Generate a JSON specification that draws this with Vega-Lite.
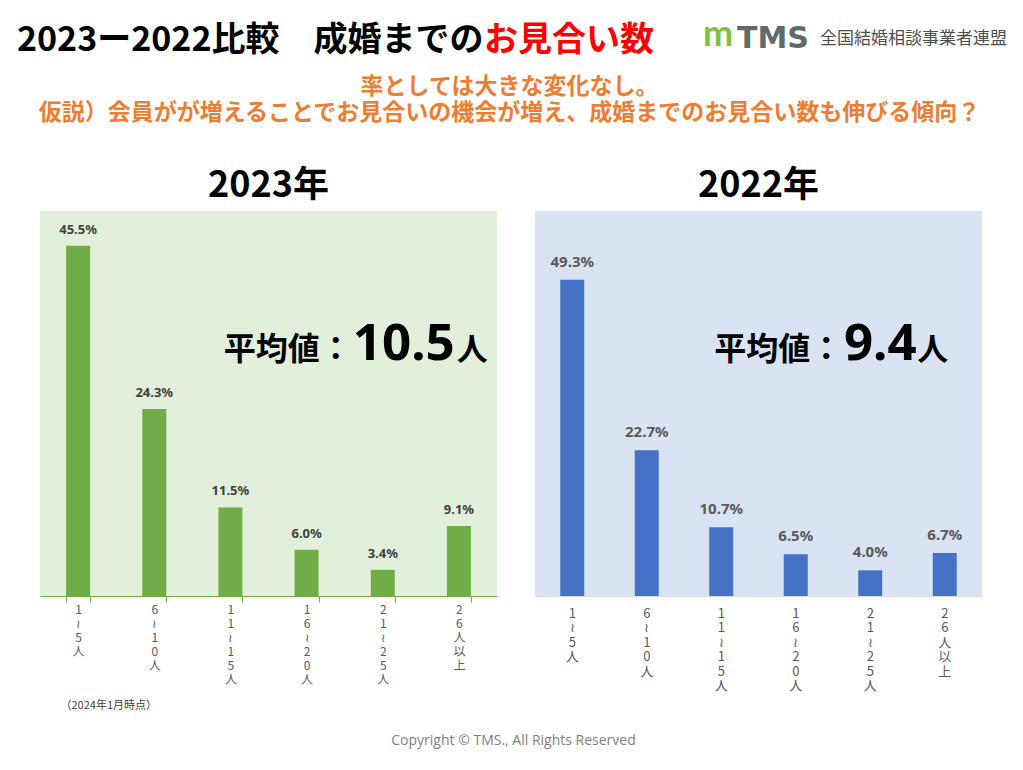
{
  "$schema": "https://vega.github.io/schema/vega-lite/v6.json",
  "background": "white",
  "padding": {"left": 17, "top": 17, "right": 10, "bottom": 10},
  "config": {
    "view": {"stroke": null},
    "font": "Noto Sans CJK JP"
  },
  "title": {
    "text": "Copyright © TMS., All Rights Reserved",
    "orient": "bottom",
    "anchor": "middle",
    "fontSize": 14,
    "font": "Open Sans",
    "fontWeight": "normal",
    "color": "#7f7f7f",
    "offset": 24
  },
  "spacing": 15,
  "vconcat": [
    {
      "spacing": 0,
      "hconcat": [
        {
          "width": 431, "height": 1,
          "data": {"values": []},
          "mark": "text",
          "title": {"text": "2023ー2022比較　成婚までの", "anchor": "start", "dx": -23, "fontSize": 34, "fontWeight": "bold", "color": "#000000", "font": "Noto Sans CJK JP", "offset": 2}
        },
        {
          "width": 219, "height": 1,
          "data": {"values": []},
          "mark": "text",
          "title": {"text": "お見合い数", "anchor": "start", "fontSize": 34, "fontWeight": "bold", "color": "#FF0000", "font": "Noto Sans CJK JP", "offset": 2}
        },
        {
          "width": 34, "height": 1,
          "data": {"values": []},
          "mark": "text",
          "title": {"text": "m", "anchor": "start", "fontSize": 36, "fontWeight": "bold", "color": "#7DC242", "font": "Lato", "offset": 6}
        },
        {
          "width": 83, "height": 1,
          "data": {"values": []},
          "mark": "text",
          "title": {"text": "TMS", "anchor": "start", "fontSize": 30, "fontWeight": "bold", "color": "#5E6B6A", "font": "DejaVu Sans", "offset": 6}
        },
        {
          "width": 190, "height": 1,
          "data": {"values": []},
          "mark": "text",
          "title": {"text": "全国結婚相談事業者連盟", "anchor": "start", "fontSize": 17, "fontWeight": "normal", "color": "#4D4D4D", "font": "Noto Sans CJK JP", "offset": 12}
        }
      ]
    },
    {
      "spacing": 15,
      "title": {
        "text": ["率としては大きな変化なし。", "仮説）会員がが増えることでお見合いの機会が増え、成婚までのお見合い数も伸びる傾向？"],
        "anchor": "middle",
        "fontSize": 23,
        "lineHeight": 26,
        "fontWeight": "bold",
        "color": "#ED7D31",
        "font": "Noto Sans CJK JP",
        "offset": 43,
        "dx": 10
      },
      "hconcat": [
        {
          "width": 457,
          "height": 385,
          "view": {"fill": "#E2EFDA", "stroke": null},
          "title": {"text": "2023年", "anchor": "middle", "fontSize": 36, "fontWeight": "bold", "color": "#000000", "font": "Noto Sans CJK JP", "offset": 6},
          "layer": [
            {
              "data": {"name": "y2023", "values": [
                {"range": "1～5人", "share": 0.455},
                {"range": "6～10人", "share": 0.243},
                {"range": "11～15人", "share": 0.115},
                {"range": "16～20人", "share": 0.060},
                {"range": "21～25人", "share": 0.034},
                {"range": "26人以上", "share": 0.091}
              ]},
              "layer": [
                {
                  "mark": {"type": "bar", "color": "#70AD47"},
                  "encoding": {
                    "x": {
                      "field": "range", "type": "nominal", "sort": null,
                      "scale": {"domain": ["1～5人", "6～10人", "11～15人", "16～20人", "21～25人", "26人以上"], "paddingInner": 0.685, "paddingOuter": 0.3425},
                      "axis": {
                        "title": "（2024年1月時点）",
                        "labelAngle": 0,
                        "labelExpr": "split(replace(datum.label, '～', '≀'), '')",
                        "labelFontSize": 12,
                        "labelLineHeight": 14,
                        "labelColor": "#595959",
                        "labelFont": "Noto Sans CJK JP",
                        "labelPadding": 2,
                        "labelBaseline": "top",
                        "labelOverlap": false,
                        "domainColor": "#70AD47",
                        "domainWidth": 1,
                        "tickColor": "#70AD47",
                        "tickSize": 6,
                        "tickBand": "extent",
                        "titleFontSize": 11,
                        "titleFontWeight": "normal",
                        "titleColor": "#404040",
                        "titleFont": "Noto Sans CJK JP",
                        "titleX": 20,
                        "titleY": 109,
                        "titleAlign": "left",
                        "titleBaseline": "middle"
                      }
                    },
                    "y": {
                      "field": "share", "type": "quantitative",
                      "scale": {"domain": [0, 0.5]},
                      "axis": {"labels": false, "ticks": false, "domain": false, "grid": false, "title": null, "minExtent": 23, "maxExtent": 23}
                    }
                  }
                },
                {
                  "mark": {"type": "text", "baseline": "bottom", "dy": -9, "fontSize": 13, "fontWeight": "bold", "color": "#404040", "font": "Noto Sans"},
                  "encoding": {
                    "x": {"field": "range", "type": "nominal", "sort": null},
                    "y": {"field": "share", "type": "quantitative"},
                    "text": {"field": "share", "type": "quantitative", "format": ".1%"}
                  }
                }
              ]
            },
            {
              "data": {"values": [{"avg": 10.5}]},
              "layer": [
                {
                  "mark": {"type": "text", "align": "right", "baseline": "alphabetic", "dx": -31, "fontSize": 32, "fontWeight": "bold", "color": "#000000", "text": "平均値："},
                  "encoding": {
                    "x": {"datum": "21～25人", "type": "nominal"},
                    "y": {"datum": 0.3065, "type": "quantitative"}
                  }
                },
                {
                  "mark": {"type": "text", "align": "center", "baseline": "alphabetic", "dx": 21, "fontSize": 51, "fontWeight": "bold", "color": "#000000", "font": "Noto Sans"},
                  "encoding": {
                    "x": {"datum": "21～25人", "type": "nominal"},
                    "y": {"datum": 0.3065, "type": "quantitative"},
                    "text": {"field": "avg", "type": "quantitative", "format": ".1f"}
                  }
                },
                {
                  "mark": {"type": "text", "align": "left", "baseline": "alphabetic", "dx": 74, "fontSize": 31, "fontWeight": "bold", "color": "#000000", "text": "人"},
                  "encoding": {
                    "x": {"datum": "21～25人", "type": "nominal"},
                    "y": {"datum": 0.3065, "type": "quantitative"}
                  }
                }
              ]
            }
          ]
        },
        {
          "width": 447,
          "height": 385,
          "view": {"fill": "#DAE3F3", "stroke": null},
          "title": {"text": "2022年", "anchor": "middle", "fontSize": 36, "fontWeight": "bold", "color": "#000000", "font": "Noto Sans CJK JP", "offset": 6},
          "layer": [
            {
              "data": {"name": "y2022", "values": [
                {"range": "1～5人", "share": 0.493},
                {"range": "6～10人", "share": 0.227},
                {"range": "11～15人", "share": 0.107},
                {"range": "16～20人", "share": 0.065},
                {"range": "21～25人", "share": 0.040},
                {"range": "26人以上", "share": 0.067}
              ]},
              "layer": [
                {
                  "mark": {"type": "bar", "color": "#4472C4"},
                  "encoding": {
                    "x": {
                      "field": "range", "type": "nominal", "sort": null,
                      "scale": {"domain": ["1～5人", "6～10人", "11～15人", "16～20人", "21～25人", "26人以上"], "paddingInner": 0.678, "paddingOuter": 0.339},
                      "axis": {
                        "title": null,
                        "labelAngle": 0,
                        "labelExpr": "split(replace(datum.label, '～', '≀'), '')",
                        "labelFontSize": 13,
                        "labelLineHeight": 14.5,
                        "labelColor": "#595959",
                        "labelFont": "Noto Sans CJK JP",
                        "labelPadding": 11,
                        "labelBaseline": "top",
                        "labelOverlap": false,
                        "domainColor": "#D9D9D9",
                        "domainWidth": 1,
                        "ticks": false
                      }
                    },
                    "y": {
                      "field": "share", "type": "quantitative",
                      "scale": {"domain": [0, 0.6]},
                      "axis": {"labels": false, "ticks": false, "domain": false, "grid": false, "title": null, "minExtent": 23, "maxExtent": 23}
                    }
                  }
                },
                {
                  "mark": {"type": "text", "baseline": "bottom", "dy": -10, "fontSize": 15, "fontWeight": "bold", "color": "#595959", "font": "Noto Sans"},
                  "encoding": {
                    "x": {"field": "range", "type": "nominal", "sort": null},
                    "y": {"field": "share", "type": "quantitative"},
                    "text": {"field": "share", "type": "quantitative", "format": ".1%"}
                  }
                }
              ]
            },
            {
              "data": {"values": [{"avg": 9.4}]},
              "layer": [
                {
                  "mark": {"type": "text", "align": "right", "baseline": "alphabetic", "dx": -28, "fontSize": 32, "fontWeight": "bold", "color": "#000000", "text": "平均値："},
                  "encoding": {
                    "x": {"datum": "21～25人", "type": "nominal"},
                    "y": {"datum": 0.368, "type": "quantitative"}
                  }
                },
                {
                  "mark": {"type": "text", "align": "center", "baseline": "alphabetic", "dx": 10, "fontSize": 51, "fontWeight": "bold", "color": "#000000", "font": "Noto Sans"},
                  "encoding": {
                    "x": {"datum": "21～25人", "type": "nominal"},
                    "y": {"datum": 0.368, "type": "quantitative"},
                    "text": {"field": "avg", "type": "quantitative", "format": ".1f"}
                  }
                },
                {
                  "mark": {"type": "text", "align": "left", "baseline": "alphabetic", "dx": 47, "fontSize": 31, "fontWeight": "bold", "color": "#000000", "text": "人"},
                  "encoding": {
                    "x": {"datum": "21～25人", "type": "nominal"},
                    "y": {"datum": 0.368, "type": "quantitative"}
                  }
                }
              ]
            }
          ]
        }
      ]
    }
  ]
}
